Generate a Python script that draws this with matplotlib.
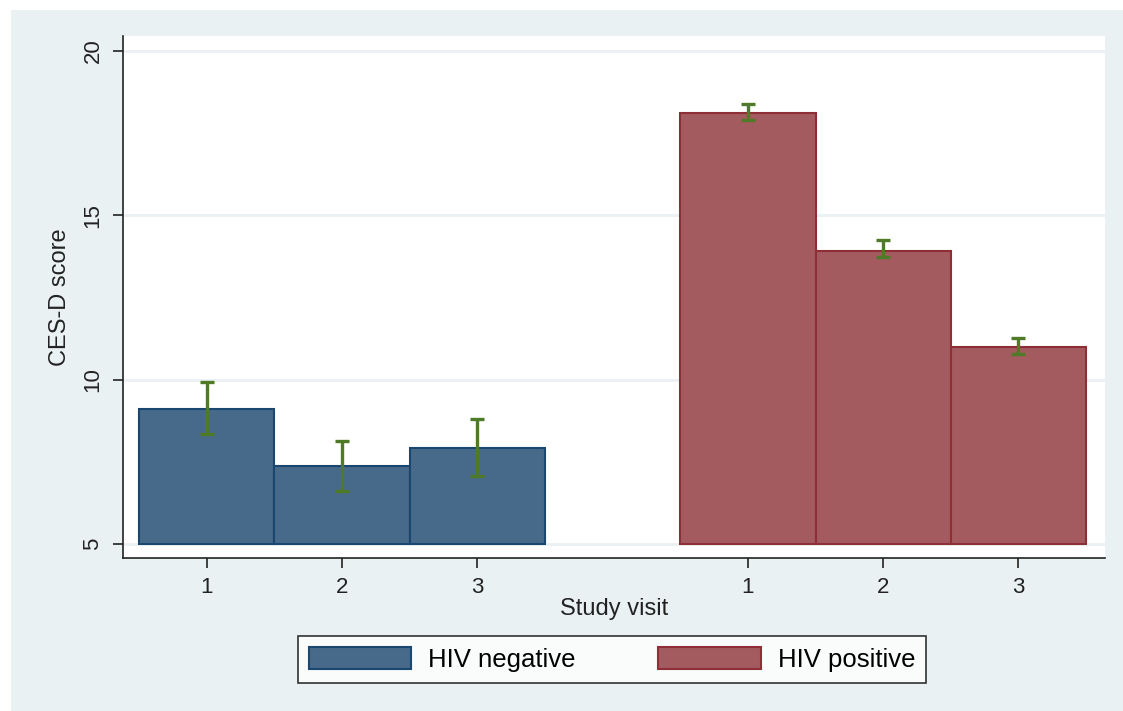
import numpy as np
import matplotlib.pyplot as plt
from matplotlib.patches import Rectangle

plt.rcParams['font.family'] = ['Liberation Sans', 'DejaVu Sans']

# data
visits = ["1", "2", "3"]
groups = ["HIV negative", "HIV positive"]
neg_mean = [9.12, 7.38, 7.93]
neg_lo = [8.35, 6.62, 7.07]
neg_hi = [9.94, 8.14, 8.81]
pos_mean = [18.11, 13.93, 11.00]
pos_lo = [17.90, 13.72, 10.79]
pos_hi = [18.38, 14.24, 11.28]

bg = "#eaf1f3"
face_cols = ["#476a8b", "#a35b5f"]
edge_cols = ["#1a476f", "#8e2f38"]
err_col = "#4f7a28"

fig = plt.figure(figsize=(11.23, 7.11), dpi=100)
fig.patch.set_facecolor("white")
fig.patches.append(Rectangle((11 / 1123, 0), 1 - 11 / 1123, 1 - 10 / 711,
                             transform=fig.transFigure, facecolor=bg,
                             edgecolor="none", zorder=-10))

ax = fig.add_axes([123 / 1123, 1 - 558 / 711, 982 / 1123, 522 / 711])
ax.set_facecolor("white")

base = 5
means = [neg_mean, pos_mean]
los = [neg_lo, pos_lo]
his = [neg_hi, pos_hi]
tick_pos = []
tick_lab = []
for g in range(2):
    x = np.arange(len(visits)) + g * 4
    m = np.array(means[g])
    ax.bar(x, m - base, bottom=base, width=1.0, color=face_cols[g],
           edgecolor=edge_cols[g], linewidth=1.5, label=groups[g], zorder=2)
    lo = np.array(los[g])
    hi = np.array(his[g])
    ax.errorbar(x, (lo + hi) / 2, yerr=(hi - lo) / 2, fmt="none",
                ecolor=err_col, elinewidth=2.4, capsize=5, capthick=2.4, zorder=3)
    tick_pos += list(x)
    tick_lab += visits

ax.set_xlim(-0.62, 6.64)
ax.set_ylim(4.57, 20.46)
ax.set_xticks(tick_pos)
ax.set_xticklabels(tick_lab)
ax.set_yticks([5, 10, 15, 20])
ax.set_yticklabels(["5", "10", "15", "20"], rotation=90, va="center")
ax.yaxis.grid(True, color=bg, linewidth=2)
ax.set_axisbelow(True)

for s in ["top", "right"]:
    ax.spines[s].set_visible(False)
for s in ["left", "bottom"]:
    ax.spines[s].set_linewidth(1.2)
    ax.spines[s].set_color("#222222")

ax.tick_params(axis="both", length=7, width=1.2, color="#222222",
               labelsize=16, labelcolor="#222222", pad=7)
ax.set_xlabel("Study visit", fontsize=17, color="#222222", labelpad=0)
ax.set_ylabel("CES-D score", fontsize=17, color="#222222", labelpad=8)

leg = fig.legend(loc="center", bbox_to_anchor=(612 / 1123, 1 - 659.5 / 711),
                 ncol=2, fontsize=18.5, frameon=True, fancybox=False,
                 handlelength=4.0, handleheight=0.9, handletextpad=0.66,
                 columnspacing=3.2, borderpad=0.42)
leg.get_frame().set_edgecolor("black")
leg.get_frame().set_linewidth(1.2)
leg.get_frame().set_facecolor("white")

fig.savefig("out.png", dpi=100)
